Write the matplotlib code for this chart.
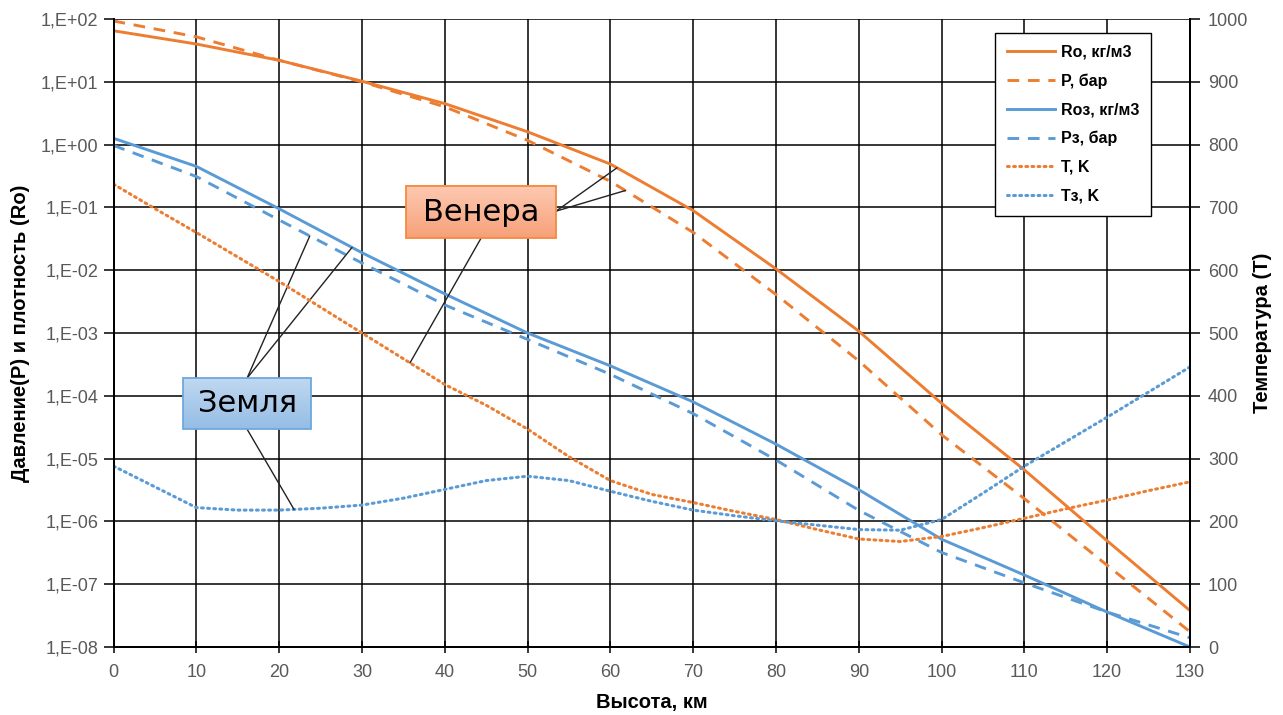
import matplotlib.pyplot as plt
import numpy as np
from matplotlib.colors import LinearSegmentedColormap
from matplotlib.patches import Rectangle
from matplotlib.ticker import FixedLocator, FuncFormatter, NullLocator

plt.rcParams.update({
    "font.family": ["Liberation Sans", "DejaVu Sans"],
    "font.size": 13,
})

# высота, км
h = [0, 10, 20, 30, 40, 50, 60, 70, 80, 90, 100, 110, 120, 130]
# Венера
ro_v = [65, 40, 22, 10.2, 4.5, 1.6, 0.49, 0.089, 0.0105, 1.07e-3, 7.6e-5, 6.6e-6, 4.9e-7, 3.8e-8]
p_v = [93, 52, 22, 10, 4.0, 1.17, 0.26, 0.04, 4.1e-3, 3.6e-4, 2.4e-5, 2.3e-6, 2.0e-7, 1.75e-8]
# Земля
ro_e = [1.26, 0.45, 0.095, 0.019, 4.2e-3, 1.0e-3, 3.0e-4, 8.0e-5, 1.7e-5, 3.2e-6, 5.2e-7, 1.4e-7, 3.6e-8, 1.0e-8]
p_e = [0.97, 0.31, 0.063, 0.013, 2.8e-3, 7.9e-4, 2.2e-4, 5.2e-5, 9.5e-6, 1.5e-6, 3.2e-7, 1.05e-7, 3.6e-8, 1.4e-8]

# температура, K (шаг 5 км)
h_t = [0, 5, 10, 15, 20, 25, 30, 35, 40, 45, 50, 55, 60, 65, 70, 75, 80, 85, 90, 95, 100, 105, 110, 115, 120, 125, 130]
t_v = [737, 698, 660, 621, 582, 541, 500, 459, 418, 385, 347, 303, 265, 243, 230, 216, 203, 187, 172, 168, 176, 190, 205, 220, 234, 249, 263]
t_e = [288, 255, 222, 218, 218, 221, 226, 237, 251, 265, 272, 265, 248, 232, 218, 209, 201, 194, 187, 186, 203, 245, 288, 327, 366, 406, 446]

orange = "#ED7D31"
blue = "#5B9BD5"
tick_col = "#595959"

fig = plt.figure(figsize=(12.83, 7.15), dpi=100)
ax = fig.add_axes([0.0885, 0.0951, 0.8390, 0.8783])
ax2 = ax.twinx()

lw = 2.1
l1, = ax.plot(h, ro_v, color=orange, lw=lw, label="Ro, кг/м3")
l2, = ax.plot(h, p_v, color=orange, lw=lw, ls=(0, (4, 3)), dash_capstyle="butt", label="P, бар")
l3, = ax.plot(h, ro_e, color=blue, lw=lw, label="Roз, кг/м3")
l4, = ax.plot(h, p_e, color=blue, lw=lw, ls=(0, (4, 3)), dash_capstyle="butt", label="Pз, бар")
l5, = ax2.plot(h_t, t_v, color=orange, lw=2.2, ls=(0, (0.6, 1.4)), dash_capstyle="round", label="T, K")
l6, = ax2.plot(h_t, t_e, color=blue, lw=2.2, ls=(0, (0.6, 1.4)), dash_capstyle="round", label="Tз, K")

ax.set_yscale("log")
ax.set_xlim(0, 130)
ax.set_ylim(1e-8, 1e2)
ax2.set_ylim(0, 1000)

ax.set_xticks(np.arange(0, 131, 10))
ax.yaxis.set_major_locator(FixedLocator([10.0 ** k for k in range(-8, 3)]))
ax.yaxis.set_minor_locator(NullLocator())
ax.yaxis.set_major_formatter(FuncFormatter(lambda v, p: "1,E%+03d" % int(round(np.log10(v)))))
ax2.set_yticks(np.arange(0, 1001, 100))

ax.grid(True, color="black", lw=1.1)
ax.set_axisbelow(True)
for a in (ax, ax2):
    for s in a.spines.values():
        s.set_color("black")
        s.set_linewidth(1.4)
    a.spines["top"].set_visible(False)
ax.tick_params(axis="x", direction="inout", length=8, width=1.1, colors="black", labelcolor=tick_col, labelsize=13, pad=8)
ax.tick_params(axis="y", direction="out", length=7, width=1.1, colors="black", labelcolor=tick_col, labelsize=13, pad=4)
ax2.tick_params(axis="y", direction="out", length=7, width=1.1, colors="black", labelcolor=tick_col, labelsize=13, pad=6)

ax.set_xlabel("Высота, км", fontsize=14.5, fontweight="bold", labelpad=9)
ax.set_ylabel("Давление(P) и плотность (Ro)", fontsize=14.5, fontweight="bold", labelpad=8)
ax2.set_ylabel("Температура (T)", fontsize=14.5, fontweight="bold", labelpad=3)

leg = ax2.legend(handles=[l1, l2, l3, l4, l5, l6], loc="upper right", bbox_to_anchor=(0.9638, 0.978),
                 borderaxespad=0, fancybox=False, edgecolor="black", framealpha=1, handlelength=3.0,
                 labelspacing=0.85, borderpad=0.75, handletextpad=0.35,
                 prop={"weight": "bold", "size": 11.5})
leg.get_frame().set_linewidth(1.0)


def box(x0, x1, y0, y1, c_top, c_bot, edge, text):
    grad = np.linspace(0, 1, 64)[:, None]
    cmap = LinearSegmentedColormap.from_list("g", [c_bot, c_top])
    ax2.imshow(grad, cmap=cmap, extent=(x0, x1, y0, y1), transform=ax2.transAxes,
               aspect="auto", zorder=5, origin="lower")
    ax2.add_patch(Rectangle((x0, y0), x1 - x0, y1 - y0, transform=ax2.transAxes,
                            fill=False, edgecolor=edge, lw=1.3, zorder=6))
    ax2.text((x0 + x1) / 2, (y0 + y1) / 2, text, transform=ax2.transAxes, ha="center", va="center",
             fontsize=22, family="DejaVu Sans", color="black", zorder=7)


def leader(ax_, x, y, fx, fy):
    ax_.annotate("", xy=(x, y), xycoords="data", xytext=(fx, fy), textcoords=ax2.transAxes,
                 arrowprops=dict(arrowstyle="-", color="#222222", lw=1.0, shrinkA=0, shrinkB=0), zorder=4)


def logi(xq, xs, ys):
    return 10 ** np.interp(xq, xs, np.log10(ys))


# Венера
leader(ax, 60.8, logi(60.8, h, ro_v), 0.411, 0.694)
leader(ax, 61.8, logi(61.8, h, p_v), 0.411, 0.694)
leader(ax2, 35.8, np.interp(35.8, h_t, t_v), 0.3414, 0.651)
box(0.2717, 0.411, 0.651, 0.734, "#FDCAB2", "#F7A07A", "#F58A3C", "Венера")

# Земля
leader(ax, 23.7, logi(23.7, h, p_e), 0.124, 0.428)
leader(ax, 28.8, logi(28.8, h, ro_e), 0.124, 0.428)
leader(ax2, 21.8, np.interp(21.8, h_t, t_e), 0.124, 0.347)
box(0.0646, 0.1835, 0.347, 0.428, "#C0D8F0", "#95BDE6", "#6FA8DC", "Земля")

ax2.set_xlim(0, 130)
ax2.set_ylim(0, 1000)

fig.savefig("out.png", dpi=100)
